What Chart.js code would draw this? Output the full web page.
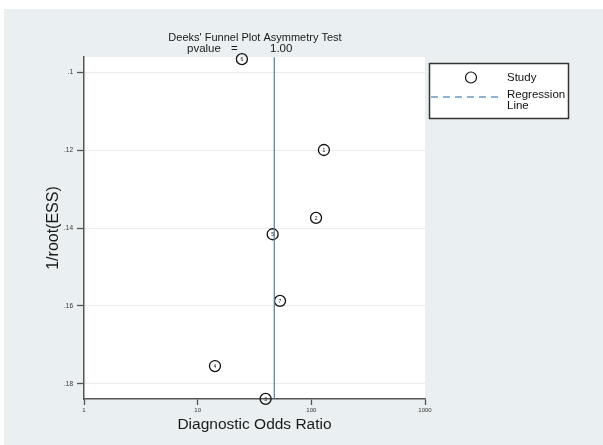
<!DOCTYPE html>
<html>
<head>
<meta charset="utf-8">
<script src="https://cdn.jsdelivr.net/npm/chart.js@4/dist/chart.umd.min.js"></script>
<style>
  html, body { margin: 0; padding: 0; background: #ffffff; }
  #wrap { width: 603px; height: 445px; }
</style>
</head>
<body>
<div id="wrap"><canvas id="c" width="603" height="445"></canvas></div>
<script>
// ---- data ----
const studyIds   = ['1', '2', '3', '4', '5', '6', '7'];
const dorValues  = [129, 110, 39.6, 14.2, 45.7, 24.5, 53];
const invRootEss = [0.1200, 0.1374, 0.1838, 0.1754, 0.1416, 0.0967, 0.1587];
const regressionX = [47.2, 47.2];
const regressionY = [0.0962, 0.1838];
const xTicks = [1, 10, 100, 1000];
const yTicks = [0.10, 0.12, 0.14, 0.16, 0.18];
const titleText = "Deeks' Funnel Plot Asymmetry Test";
const pvalueText = ['pvalue', '=', '1.00'];
const legendLabels = ['Study', 'Regression', 'Line'];

const FONT = "'Liberation Sans', Arial, Helvetica, sans-serif";

const bgPlugin = {
  id: 'bg',
  beforeDraw(chart) {
    const ctx = chart.ctx, a = chart.chartArea;
    ctx.save();
    ctx.fillStyle = '#ffffff';
    ctx.fillRect(0, 0, chart.width, chart.height);
    ctx.fillStyle = '#eaf0f1';
    ctx.fillRect(4, 9, chart.width - 4, chart.height - 9);
    ctx.fillStyle = '#ffffff';
    ctx.fillRect(a.left, a.top, a.right - a.left, a.bottom - a.top);
    ctx.restore();
  },
  beforeDatasetsDraw(chart) {
    const ctx = chart.ctx;
    ctx.save();
    ctx.fillStyle = '#1a1a1a';
    ctx.font = '11px ' + FONT;
    ctx.textBaseline = 'middle';
    ctx.textAlign = 'center';
    ctx.fillText(titleText, 255, 38);
    ctx.textAlign = 'left';
    ctx.font = '11.5px ' + FONT;
    ctx.fillText(pvalueText[0], 187, 48.5);
    ctx.fillText(pvalueText[1], 231, 48.5);
    ctx.fillText(pvalueText[2], 270, 48.5);
    ctx.restore();
  },
  afterDatasetsDraw(chart) {
    const ctx = chart.ctx;
    const meta = chart.getDatasetMeta(1);
    ctx.save();
    ctx.fillStyle = '#111';
    ctx.font = '5px ' + FONT;
    ctx.textAlign = 'center';
    ctx.textBaseline = 'middle';
    meta.data.forEach((el, i) => {
      ctx.fillText(studyIds[i], el.x, el.y + 0.5);
    });
    ctx.restore();
  },
  afterDraw(chart) {
    const ctx = chart.ctx;
    ctx.save();
    // legend box
    ctx.fillStyle = '#ffffff';
    ctx.fillRect(429.5, 63.5, 139, 55);
    ctx.strokeStyle = '#333';
    ctx.lineWidth = 1.5;
    ctx.strokeRect(429.5, 63.5, 139, 55);
    // circle symbol
    ctx.beginPath();
    ctx.arc(471, 77.5, 5.5, 0, Math.PI * 2);
    ctx.strokeStyle = '#111';
    ctx.lineWidth = 1.2;
    ctx.stroke();
    // dashed symbol
    ctx.beginPath();
    ctx.setLineDash([7, 5]);
    ctx.moveTo(431, 97);
    ctx.lineTo(499, 97);
    ctx.strokeStyle = '#6d9bc3';
    ctx.lineWidth = 1.5;
    ctx.stroke();
    ctx.setLineDash([]);
    ctx.fillStyle = '#111';
    ctx.font = '11.5px ' + FONT;
    ctx.textAlign = 'left';
    ctx.textBaseline = 'middle';
    ctx.fillText(legendLabels[0], 507, 77.5);
    ctx.fillText(legendLabels[1], 507, 95);
    ctx.fillText(legendLabels[2], 507, 105.5);
    ctx.restore();
  }
};

new Chart(document.getElementById('c'), {
  type: 'scatter',
  data: {
    datasets: [
      {
        type: 'line',
        label: 'Regression Line',
        data: regressionX.map((x, i) => ({ x: x, y: regressionY[i] })),
        borderColor: '#4f7fa8',
        borderWidth: 1.2,
        pointRadius: 0,
        fill: false,
        clip: false
      },
      {
        label: 'Study',
        data: dorValues.map((x, i) => ({ x: x, y: invRootEss[i] })),
        pointStyle: 'circle',
        pointRadius: 5.5,
        pointHoverRadius: 5.5,
        borderColor: '#111',
        backgroundColor: 'rgba(255,255,255,0)',
        borderWidth: 1.3,
        clip: false
      }
    ]
  },
  options: {
    responsive: false,
    animation: false,
    devicePixelRatio: 1,
    layout: { padding: { left: 0, right: 178, top: 57, bottom: 0 } },
    plugins: { legend: { display: false }, title: { display: false }, tooltip: { enabled: false } },
    scales: {
      x: {
        type: 'logarithmic',
        min: 1,
        max: 1000,
        afterBuildTicks(scale) { scale.ticks = xTicks.map(v => ({ value: v })); },
        afterFit(scale) { scale.height = 46; },
        ticks: {
          callback: v => String(v),
          font: { family: FONT, size: 6 },
          color: '#333',
          padding: 2,
          maxRotation: 0,
          autoSkip: false
        },
        grid: { drawOnChartArea: false, drawTicks: true, tickLength: 6, tickColor: '#555', tickWidth: 1.3 },
        border: { display: true, color: '#555', width: 1.5 },
        title: {
          display: true,
          text: 'Diagnostic Odds Ratio',
          font: { family: FONT, size: 15.5 },
          color: '#1a1a1a',
          padding: { top: 0, bottom: 11 }
        }
      },
      y: {
        type: 'linear',
        reverse: true,
        min: 0.09615,
        max: 0.18385,
        afterBuildTicks(scale) { scale.ticks = yTicks.map(v => ({ value: v })); },
        afterFit(scale) { scale.width = 84; },
        ticks: {
          callback: v => String(Math.round(v * 100) / 100).replace(/^0/, ''),
          font: { family: FONT, size: 6.5 },
          color: '#333',
          padding: 4,
          autoSkip: false
        },
        grid: { color: '#ececec', lineWidth: 1, drawTicks: true, tickLength: 7, tickColor: '#555', tickWidth: 1.3 },
        border: { display: true, color: '#555', width: 1.5 },
        title: {
          display: true,
          text: '1/root(ESS)',
          font: { family: FONT, size: 16 },
          color: '#1a1a1a',
          padding: { top: 44, bottom: 0 }
        }
      }
    }
  },
  plugins: [bgPlugin]
});
</script>
</body>
</html>
